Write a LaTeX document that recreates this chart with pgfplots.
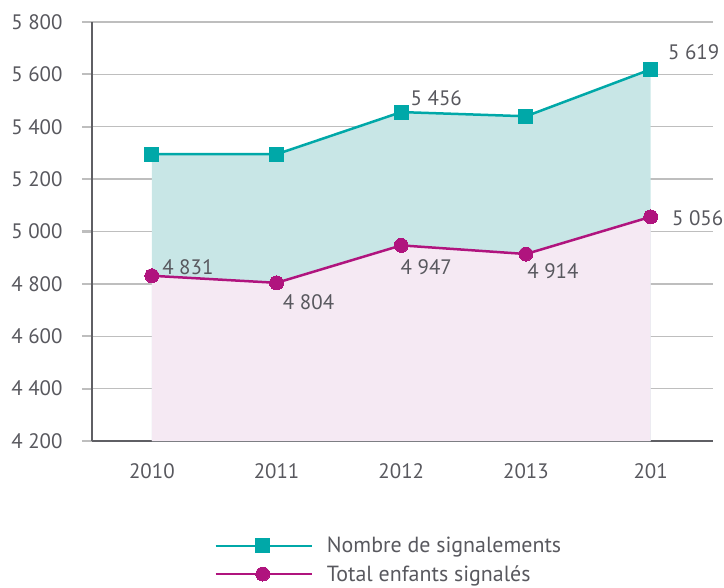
\documentclass[border=0pt]{standalone}
\usepackage{fontspec}
\setmainfont{PT Sans}
\usepackage{pgfplots}
\pgfplotsset{compat=1.18}
\definecolor{txt}{RGB}{88,88,94}
\definecolor{tealc}{RGB}{0,168,168}
\definecolor{tealf}{RGB}{200,230,230}
\definecolor{magc}{RGB}{176,20,126}
\definecolor{magf}{RGB}{245,233,243}
\definecolor{gridc}{RGB}{190,190,190}
\definecolor{axc}{RGB}{95,95,100}
\begin{document}
\begin{tikzpicture}
\useasboundingbox (-92bp,-147bp) rectangle (632bp,441bp);
\begin{axis}[
  at={(0,0)}, anchor=south west,
  scale only axis, width=621bp, height=419bp,
  xmin=-0.48, xmax=4.5, ymin=4200, ymax=5800,
  clip mode=individual,
  axis lines*=left,
  axis line style={axc, line width=2.8bp},
  xtick={0,1,2,3,4}, xticklabels={2010,2011,2012,2013,201},
  ytick={4200,4400,...,5800},
  ymajorgrids, grid style={gridc, line width=1.3bp},
  xtick style={draw=none},
  ytick style={gridc, line width=2.2bp},
  tick align=outside, major tick length=10bp,
  font=\fontsize{21}{24}\selectfont, color=txt,
  ticklabel style={color=txt},
  xticklabel style={yshift=-9bp},
  yticklabel style={xshift=-16bp},
  /pgf/number format/.cd, 1000 sep={\ }, assume math mode=true,
  /pgfplots/.cd,
  legend style={at={(0.478,-0.284)}, anchor=center, draw=none, fill=none,
    font=\fontsize{22}{30}\selectfont, text=txt, row sep=7bp,
    /tikz/every odd column/.append style={column sep=12bp}},
  legend cell align=left,
  legend image code/.code={
    \draw[mark repeat=2, mark phase=2] plot coordinates {(0bp,0bp) (47bp,0bp) (96bp,0bp)};
  },
]
\addplot[fill=tealf, draw=none, forget plot] coordinates {(0,5295) (1,5295) (2,5456) (3,5440) (4,5619)} \closedcycle;
\addplot[fill=magf, draw=none, forget plot] coordinates {(0,4831) (1,4804) (2,4947) (3,4914) (4,5056)} \closedcycle;
\addplot[tealc, line width=2.5bp, mark=square*, mark size=7bp, mark options={fill=tealc, draw=tealc, line width=0pt}] coordinates {(0,5295) (1,5295) (2,5456) (3,5440) (4,5619)};
\addlegendentry{Nombre de signalements}
\addplot[magc, line width=2.5bp, mark=*, mark size=7bp, mark options={fill=magc, draw=magc, line width=0pt}] coordinates {(0,4831) (1,4804) (2,4947) (3,4914) (4,5056)};
\addlegendentry{Total enfants signalés}
\node[txt] at (axis cs:0,4831) [xshift=36bp, yshift=9bp] {4 831};
\node[txt] at (axis cs:1,4804) [xshift=32bp, yshift=-19bp] {4 804};
\node[txt] at (axis cs:2,4947) [xshift=25bp, yshift=-22bp] {4 947};
\node[txt] at (axis cs:3,4914) [xshift=27bp, yshift=-17bp] {4 914};
\node[txt] at (axis cs:4,5056) [xshift=47bp, yshift=-1bp] {5 056};
\node[txt] at (axis cs:2,5456) [xshift=35bp, yshift=14bp] {5 456};
\node[txt] at (axis cs:4,5619) [xshift=43bp, yshift=17bp] {5 619};
\end{axis}
\end{tikzpicture}
\end{document}
